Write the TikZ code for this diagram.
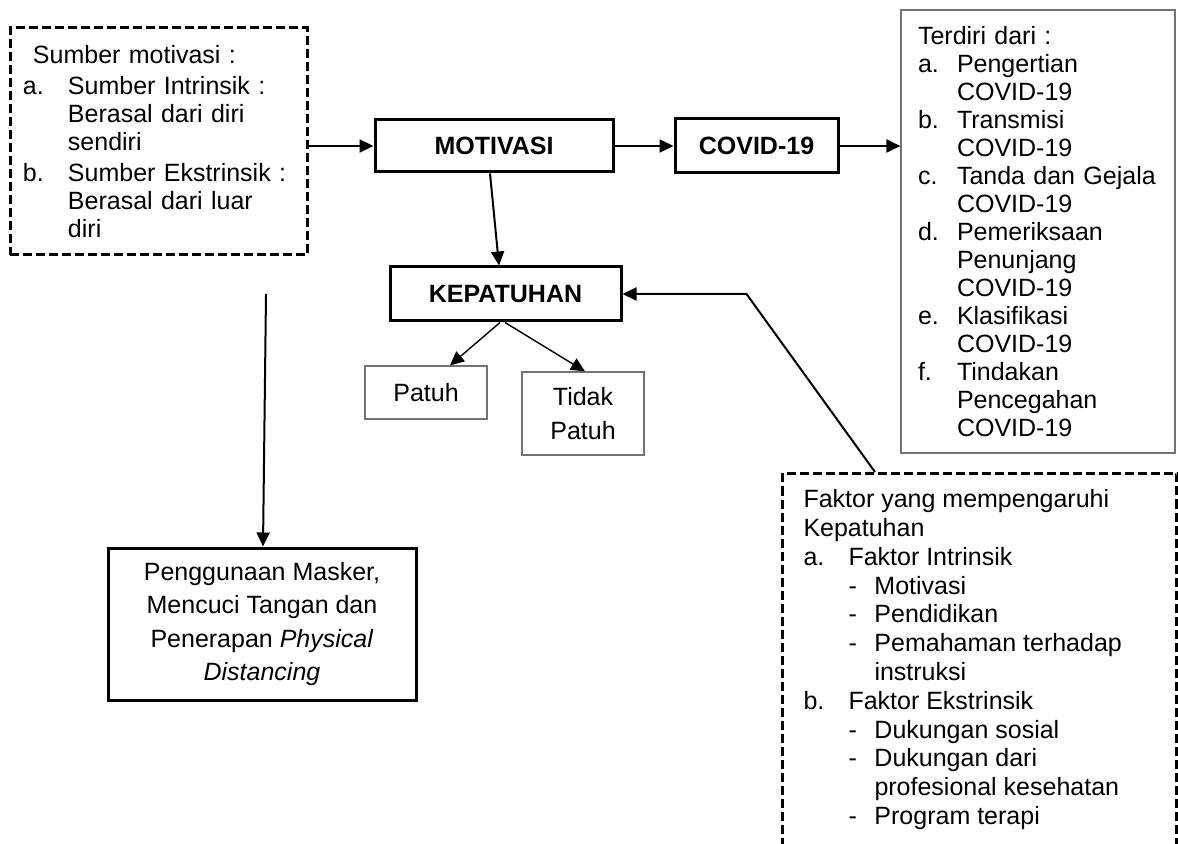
\documentclass[tikz,border=0pt]{standalone}
\usepackage{fontspec}
\setmainfont{Liberation Sans}
\usetikzlibrary{arrows.meta}
\newcommand{\bodyfont}{\fontsize{12.5}{14}\selectfont}
\newcommand{\widefont}{\fontsize{12.5}{16.7}\selectfont}
\newcommand{\itemlbl}[2]{\makebox[#1][l]{#2}}

\begin{document}
\begin{tikzpicture}[x=0.5pt,y=-0.5pt,font=\bodyfont,
	thickbox/.style={draw,line width=1.5pt,inner sep=0pt,align=center},
	thinbox/.style={draw=black!55,line width=0.6pt,inner sep=0pt,align=center},
	dashbox/.style={draw,line width=1.5pt,dash pattern=on 4.5pt off 2pt},
	arr/.style={-{Triangle[length=7pt,width=6.5pt]},line width=1pt},
	thinarr/.style={-{Triangle[length=7pt,width=6.5pt]},line width=0.7pt}]
	\useasboundingbox (0,0) rectangle (1178,844);
	\clip (0,0) rectangle (1178,844);
	% boxes
	\node[dashbox,minimum width=148.5pt,minimum height=113.5pt,inner xsep=6.5pt,text width=135.5pt,align=left] (sumber) at (158.5,141.5) {\hspace*{5pt}Sumber motivasi :\\[1.5pt]
		\itemlbl{22.5pt}{a.}Sumber Intrinsik :\\
		\hspace*{22.5pt}Berasal dari diri\\
		\hspace*{22.5pt}sendiri\\[1.5pt]
		\itemlbl{22.5pt}{b.}Sumber Ekstrinsik :\\
		\hspace*{22.5pt}Berasal dari luar\\
		\hspace*{22.5pt}diri};
	\node[thickbox,minimum width=119pt,minimum height=26pt,font=\bodyfont\bfseries] (motivasi) at (494,146) {MOTIVASI};
	\node[thickbox,minimum width=81.5pt,minimum height=27pt,font=\bodyfont\bfseries] (covid) at (756.5,146) {COVID-19};
	\node[thinbox,minimum width=137pt,minimum height=221.5pt,inner xsep=8.5pt,text width=120pt,align=left] (terdiri) at (1038,231.5) {Terdiri dari :\\
		\itemlbl{19.5pt}{a.}Pengertian\\
		\hspace*{19.5pt}COVID-19\\
		\itemlbl{19.5pt}{b.}Transmisi\\
		\hspace*{19.5pt}COVID-19\\
		\itemlbl{19.5pt}{c.}Tanda dan Gejala\\
		\hspace*{19.5pt}COVID-19\\
		\itemlbl{19.5pt}{d.}Pemeriksaan\\
		\hspace*{19.5pt}Penunjang\\
		\hspace*{19.5pt}COVID-19\\
		\itemlbl{19.5pt}{e.}Klasifikasi\\
		\hspace*{19.5pt}COVID-19\\
		\itemlbl{19.5pt}{f.}Tindakan\\
		\hspace*{19.5pt}Pencegahan\\
		\hspace*{19.5pt}COVID-19};
	\node[thickbox,minimum width=115.5pt,minimum height=27pt,font=\bodyfont\bfseries] (kepatuhan) at (505.5,294) {KEPATUHAN};
	\node[thinbox,minimum width=61pt,minimum height=26.5pt,font=\widefont] (patuh) at (426,392.5) {Patuh};
	\node[thinbox,minimum width=61pt,minimum height=41.5pt,font=\widefont] (tidak) at (583,413.5) {Tidak\\Patuh};
	\node[thickbox,minimum width=154pt,minimum height=76pt,font=\widefont] (masker) at (262,624) {Penggunaan Masker,\\Mencuci Tangan dan\\Penerapan \textit{Physical}\\\textit{Distancing}};
	\node[dashbox,anchor=north west,inner xsep=10.5pt,inner ysep=7pt,font=\fontsize{12.5}{14.4}\selectfont] (faktor) at (781,472) {\begin{minipage}[t][190pt][t]{176pt}
		\strut Faktor yang mempengaruhi\\
		Kepatuhan\\
		\itemlbl{22.5pt}{a.}Faktor Intrinsik\\
		\hspace*{22.5pt}\itemlbl{13pt}{-}Motivasi\\
		\hspace*{22.5pt}\itemlbl{13pt}{-}Pendidikan\\
		\hspace*{22.5pt}\itemlbl{13pt}{-}Pemahaman terhadap\\
		\hspace*{35.5pt}instruksi\\
		\itemlbl{22.5pt}{b.}Faktor Ekstrinsik\\
		\hspace*{22.5pt}\itemlbl{13pt}{-}Dukungan sosial\\
		\hspace*{22.5pt}\itemlbl{13pt}{-}Dukungan dari\\
		\hspace*{35.5pt}profesional kesehatan\\
		\hspace*{22.5pt}\itemlbl{13pt}{-}Program terapi
	\end{minipage}};
	% connectors
	\draw[arr] (sumber.east |- motivasi.west) -- (motivasi.west);
	\draw[arr] (motivasi) -- (covid);
	\draw[arr] (covid.east) -- (covid.east -| terdiri.west);
	\draw[arr] ([xshift=-2pt]motivasi.south) -- ([xshift=-3.25pt]kepatuhan.north);
	\draw[thinarr] ([xshift=-2.75pt]kepatuhan.south) -- ([xshift=12pt]patuh.north);
	\draw[thinarr] ([xshift=-0.25pt]kepatuhan.south) -- ([xshift=1pt]tidak.north);
	\coordinate (maskertop) at (266,294);
	\draw[arr] (maskertop) -- ([xshift=0.5pt]masker.north);
	\draw[arr] ([xshift=47pt]faktor.north west) -- ([xshift=62pt]kepatuhan.east) -- (kepatuhan.east);
\end{tikzpicture}
\end{document}
